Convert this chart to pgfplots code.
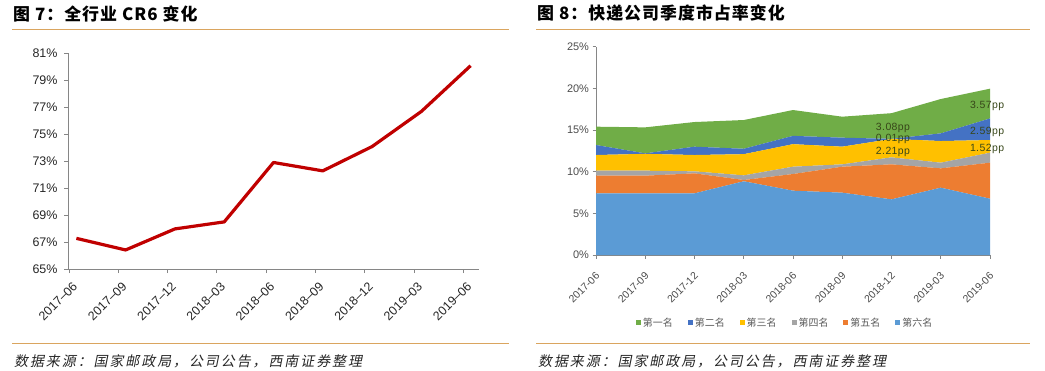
\documentclass[border=0pt]{standalone}
\usepackage{fontspec}
\setmainfont{Liberation Sans}
\newfontfamily\cjk{Noto Sans CJK SC}
\newfontfamily\cjkl{Noto Sans CJK SC}[LetterSpace=6]
\newfontfamily\cjkt{Noto Sans CJK SC}[LetterSpace=6]
\newfontfamily\cjkit{Noto Sans CJK SC}[FakeSlant=0.2,LetterSpace=14]
\newfontfamily\ppfont{Liberation Sans}[LetterSpace=4]
\usepackage{pgfplots}
\usepackage{pgfplotstable}
\pgfplotsset{compat=1.18}
\definecolor{rulec}{RGB}{218,165,95}
\definecolor{cred}{RGB}{192,0,0}
\definecolor{c1}{RGB}{112,173,71}
\definecolor{c2}{RGB}{68,114,196}
\definecolor{c3}{RGB}{255,192,0}
\definecolor{c4}{RGB}{165,165,165}
\definecolor{c5}{RGB}{237,125,49}
\definecolor{c6}{RGB}{91,155,213}
\definecolor{axisgray}{RGB}{134,134,134}
\definecolor{ppcol}{RGB}{55,70,25}

\pgfplotstableread{
x y
0.15 67.27
1.15 66.41
2.15 67.97
3.15 68.49
4.15 72.89
5.15 72.27
6.15 74.07
7.15 76.67
8.15 80.06
}\crsix

\pgfplotstableread{
x s6 s5 s4 s3 s2 s1
0 7.40 2.12 0.60 1.88 1.20 2.20
1 7.40 2.12 0.60 2.02 0.06 3.12
2 7.40 2.40 0.24 1.96 1.00 2.96
3 8.85 0.15 0.56 2.54 0.65 3.45
4 7.72 2.00 0.88 2.70 1.00 3.10
5 7.48 3.12 0.28 2.12 1.08 2.52
6 6.68 4.20 0.84 2.21 0.01 3.08
7 8.08 2.32 0.68 2.60 0.92 4.12
8 6.76 4.32 1.20 1.52 2.59 3.57
}\share

\begin{document}
\begin{tikzpicture}
\useasboundingbox (0,0) rectangle (1045bp,-371bp);

% titles and rules
\node[anchor=west, inner sep=0] at (13bp,-13.5bp) {\cjkl\bfseries\fontsize{17}{20}\selectfont 图 7：全行业 CR6 变化};
\node[anchor=west, inner sep=0] at (537bp,-13.5bp) {\cjkt\bfseries\fontsize{17}{20}\selectfont 图 8：快递公司季度市占率变化};
\draw[rulec, line width=1.6bp] (12bp,-29.3bp) -- (509bp,-29.3bp);
\draw[rulec, line width=1.6bp] (536bp,-29.3bp) -- (1030bp,-29.3bp);
\draw[rulec, line width=1.6bp] (12bp,-343.3bp) -- (509bp,-343.3bp);
\draw[rulec, line width=1.6bp] (536bp,-343.3bp) -- (1030bp,-343.3bp);
\node[anchor=west, inner sep=0, text=black!85] at (14bp,-361bp) {\cjkit\fontsize{14}{16}\selectfont 数据来源：国家邮政局，公司公告，西南证券整理};
\node[anchor=west, inner sep=0, text=black!85] at (538bp,-361bp) {\cjkit\fontsize{14}{16}\selectfont 数据来源：国家邮政局，公司公告，西南证券整理};

% left chart
\begin{axis}[at={(68bp,-269bp)}, anchor=south west, scale only axis,
  width=411bp, height=216bp,
  xmin=-0.02, xmax=8.32, ymin=65, ymax=81,
  axis lines=left, axis line style={-, axisgray, line width=0.8bp},
  xtick={0,...,8},
  xticklabels={2017–06,2017–09,2017–12,2018–03,2018–06,2018–09,2018–12,2019–03,2019–06},
  ytick={65,67,...,81},
  yticklabels={65\%,67\%,69\%,71\%,73\%,75\%,77\%,79\%,81\%},
  tick style={axisgray, line width=0.8bp}, tick align=outside, major tick length=4bp,
  xticklabel style={xshift=3bp, yshift=-5bp, rotate=45, anchor=north east, font=\fontsize{12.5}{14}\selectfont, text=black!85, inner sep=2bp},
  yticklabel style={xshift=-3bp, font=\fontsize{12.5}{14}\selectfont, text=black!85},
  clip=false]
\addplot[cred, line width=3.2bp, mark=none, line join=round] table[x=x,y=y] {\crsix};
\end{axis}

% right chart
\begin{axis}[at={(596bp,-255bp)}, anchor=south west, scale only axis,
  width=394bp, height=208.3bp,
  xmin=0, xmax=8, ymin=0, ymax=25,
  stack plots=y,
  axis lines=left, axis line style={-, axisgray, line width=0.8bp},
  xtick={0,...,8},
  xticklabels={2017-06,2017-09,2017-12,2018-03,2018-06,2018-09,2018-12,2019-03,2019-06},
  ytick={0,5,...,25},
  yticklabels={0\%,5\%,10\%,15\%,20\%,25\%},
  tick style={axisgray, line width=0.8bp}, tick align=outside, major tick length=3.5bp,
  xticklabel style={xshift=-1bp, yshift=-10bp, rotate=45, anchor=north east, font=\fontsize{10.5}{12}\selectfont, text=black!70, inner sep=2bp},
  yticklabel style={font=\fontsize{11}{12}\selectfont, text=black!70},
  clip=false,
  reverse legend,
  legend columns=6,
  legend style={at={(0.48,-0.326)}, anchor=center, draw=none, fill=none,
    font=\cjk\fontsize{10}{12}\selectfont, text=black!65,
    /tikz/every even column/.append style={column sep=13bp}},
  legend image code/.code={\fill[#1] (0bp,-2.5bp) rectangle (5bp,2.5bp);}]
\addplot[fill=c6, draw=none] table[x=x,y=s6] {\share} \closedcycle;
\addlegendentry{第六名}
\addplot[fill=c5, draw=none] table[x=x,y=s5] {\share} \closedcycle;
\addlegendentry{第五名}
\addplot[fill=c4, draw=none] table[x=x,y=s4] {\share} \closedcycle;
\addlegendentry{第四名}
\addplot[fill=c3, draw=none] table[x=x,y=s3] {\share} \closedcycle;
\addlegendentry{第三名}
\addplot[fill=c2, draw=none] table[x=x,y=s2] {\share} \closedcycle;
\addlegendentry{第二名}
\addplot[fill=c1, draw=none] table[x=x,y=s1] {\share} \closedcycle;
\addlegendentry{第一名}
\coordinate (pa) at (axis cs:6.03,15.24);
\coordinate (pb) at (axis cs:6.03,13.92);
\coordinate (pc) at (axis cs:6.03,12.36);
\coordinate (pd) at (axis cs:7.94,17.88);
\coordinate (pe) at (axis cs:7.94,14.76);
\coordinate (pf) at (axis cs:7.94,12.72);
\end{axis}
\begin{scope}[every node/.style={font=\ppfont\fontsize{10.5}{12}\selectfont, text=ppcol, inner sep=0}]
\node at (pa) {3.08pp};
\node at (pb) {0.01pp};
\node at (pc) {2.21pp};
\node at (pd) {3.57pp};
\node at (pe) {2.59pp};
\node at (pf) {1.52pp};
\end{scope}
\end{tikzpicture}
\end{document}
